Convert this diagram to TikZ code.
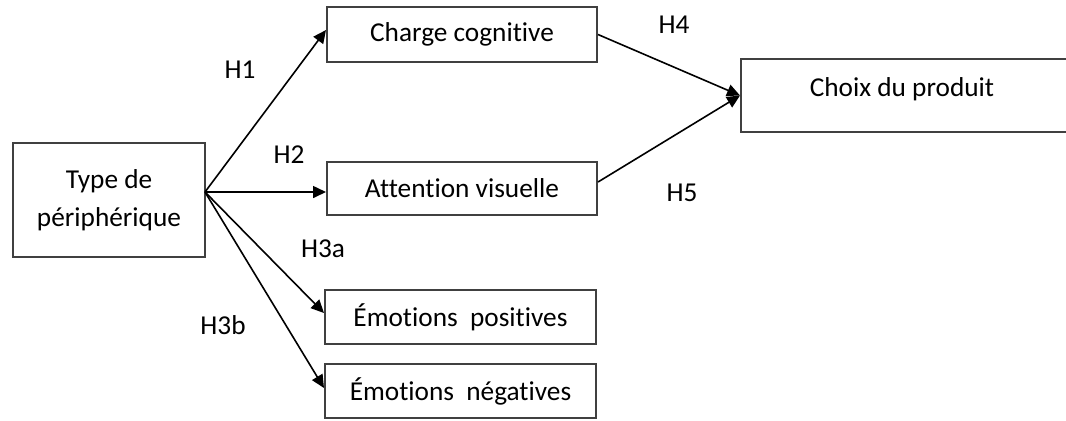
\documentclass[tikz,border=0pt]{standalone}
\usepackage{fontspec}
\setmainfont[Ligatures=NoCommon]{Carlito}
\usetikzlibrary{arrows.meta,calc}
\begin{document}
\begin{tikzpicture}[x=0.5pt,y=-0.5pt,
  box/.style={draw=black!75,line width=1pt,inner sep=0pt,font=\fontsize{13.65}{19}\selectfont},
  hyp/.style={inner sep=0pt,font=\fontsize{13.65}{19}\selectfont},
  link/.style={line width=0.8pt,-{Triangle[length=6.5pt,width=6pt]}},
  plain/.style={line width=0.8pt}]
\clip (0,0) rectangle (1066,420);
\useasboundingbox (0,0) rectangle (1066,420);
% boxes
\node[box,minimum width=96pt,minimum height=57pt,align=center] (tp) at (109,200) {Type de\\périphérique};
\node[box,minimum width=135pt,minimum height=27.5pt] (cc) at (462,34.5) {Charge cognitive};
\node[box,minimum width=135pt,minimum height=26.5pt] (av) at (462,188.5) {Attention visuelle};
\node[box,minimum width=135.5pt,minimum height=27pt] (ep) at (460.5,317) {Émotions\hspace{0.45em}positives};
\node[box,minimum width=135.5pt,minimum height=27pt] (en) at (460.5,391) {Émotions\hspace{0.45em}négatives};
\node[box,minimum width=169.5pt,minimum height=36.5pt,
  label={[hyp,yshift=3.2pt,xshift=-4.25pt]center:Choix du produit}] (ch) at (910.5,95.5) {};
% connectors
\coordinate (o) at (205,192);
\draw[link] (o) -- ($(cc.west)+(0,-4.5)$);
\draw[link] (o) -- (o -| av.west);
\draw[link] (o) -- ($(ep.west)+(0,-4)$);
\draw[link] (o) -- ($(en.west)+(0,-3)$);
\draw[link] (cc.east) -- (ch.west);
\draw[link] ($(av.east)+(0,-6.5)$) -- (ch.west);
% hypothesis labels
\node[hyp] (h1) at (240,70) {H1};
\node[hyp] (h2) at (289,155) {H2};
\node[hyp] (h3a) at (323,249) {H3a};
\node[hyp] (h3b) at (223,325) {H3b};
\node[hyp] (h4) at (674,25) {H4};
\node[hyp] (h5) at (682,192.5) {H5};
\end{tikzpicture}
\end{document}
